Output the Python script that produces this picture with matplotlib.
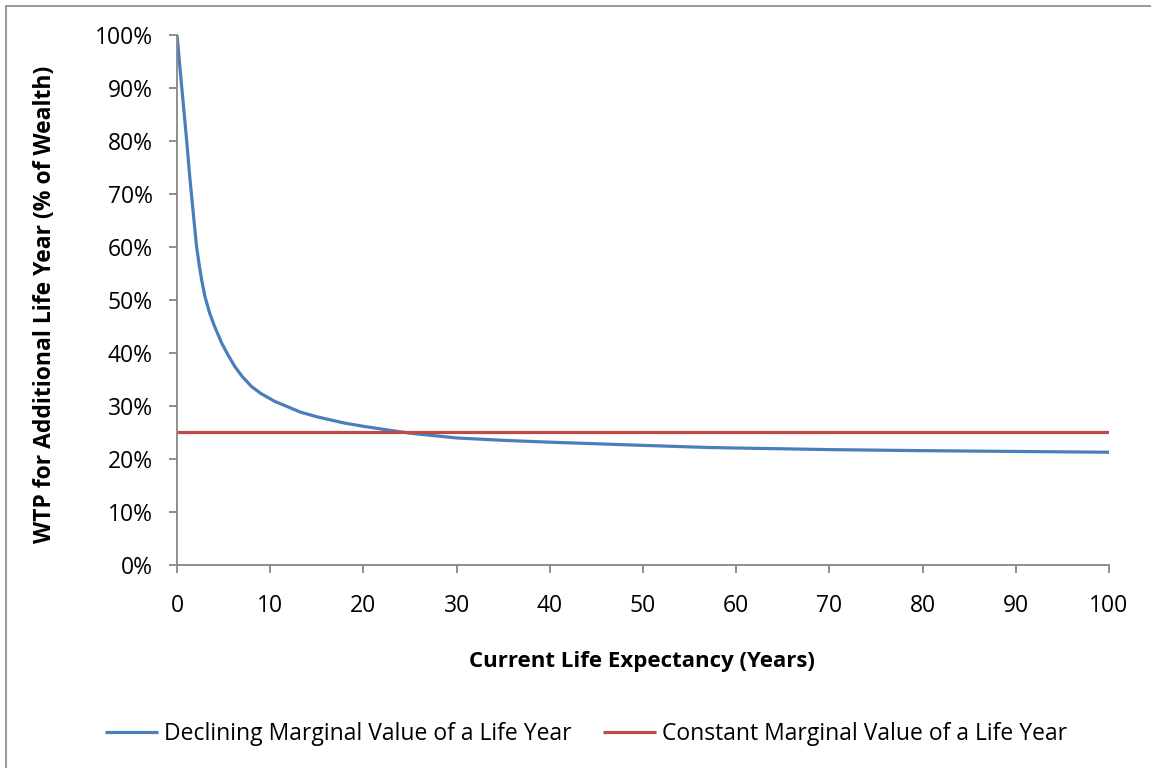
import numpy as np
import matplotlib
matplotlib.use("Agg")
import matplotlib.pyplot as plt
from matplotlib.ticker import PercentFormatter, MultipleLocator
from matplotlib.patches import Rectangle

# values (years, % of wealth)
years = [0, 0.5, 1, 1.4, 1.75, 2.1, 2.4, 2.65, 3, 3.5, 4, 4.8, 5.5, 6.2, 7,
         8, 9, 10.5, 12, 13.2, 15, 18, 20, 23, 25, 30, 35, 40, 50, 57, 60,
         70, 75, 80, 90, 100]
declining = [100, 90.3, 80.8, 72.6, 66.3, 60.0, 56.4, 53.7, 50.6, 47.5, 45.1,
             41.8, 39.5, 37.4, 35.5, 33.6, 32.3, 30.8, 29.7, 28.8, 27.9, 26.7,
             26.1, 25.3, 24.8, 23.9, 23.45, 23.1, 22.5, 22.1, 22.0, 21.7,
             21.6, 21.5, 21.35, 21.2]
const_years = [0, 100]
constant = [25, 25]

labels = ["Declining Marginal Value of a Life Year",
          "Constant Marginal Value of a Life Year"]

BLUE = "#4A7EBB"
RED = "#BE4B48"
GRAY = "#868686"
FONT = "Open Sans"

W, H = 1151, 768
fig = plt.figure(figsize=(W / 100, H / 100), dpi=100)
plt.rcParams['font.family'] = [FONT, 'DejaVu Sans']

# outer chart border (runs off right/bottom of the image)
fig.patches.append(Rectangle((6 / W, -0.01), 1.1, 1 - 6 / H + 0.01,
                             transform=fig.transFigure, fill=False,
                             edgecolor=GRAY, linewidth=1.2))

ax = fig.add_axes([177 / W, 1 - 564.5 / H, (1109 - 177) / W, (564.5 - 35) / H])
ax.plot(years, declining, color=BLUE, lw=2.3, label=labels[0],
        solid_capstyle='butt', solid_joinstyle='round')
ax.plot(const_years, constant, color=RED, lw=2.3, label=labels[1],
        solid_capstyle='butt')

ax.set_xlim(0, 100)
ax.set_ylim(0, 100)
ax.xaxis.set_major_locator(MultipleLocator(10))
ax.yaxis.set_major_locator(MultipleLocator(10))
ax.yaxis.set_major_formatter(PercentFormatter(100, decimals=0))

for s in ["top", "right"]:
    ax.spines[s].set_visible(False)
for s in ["left", "bottom"]:
    ax.spines[s].set_color(GRAY)
    ax.spines[s].set_linewidth(1.3)

ax.tick_params(axis='both', colors=GRAY, labelcolor='black', labelsize=16.5,
               width=1.3, length=5.5, direction='out')
ax.tick_params(axis='y', pad=12)
ax.tick_params(axis='x', pad=16)

fig.text(642 / W, 1 - 661 / H, "Current Life Expectancy (Years)", fontsize=16,
         fontweight='bold', ha='center', va='center')
fig.text(45 / W, 1 - 304 / H, "WTP for Additional Life Year (% of Wealth)",
         fontsize=16.5, fontweight='bold', ha='center', va='center', rotation=90)

fig.legend(loc='center', bbox_to_anchor=(586 / W, 1 - 734 / H), ncol=2,
           frameon=False, fontsize=16.5, handlelength=2.3, handletextpad=0.25,
           columnspacing=1.4)

fig.savefig("out.png", dpi=100)
